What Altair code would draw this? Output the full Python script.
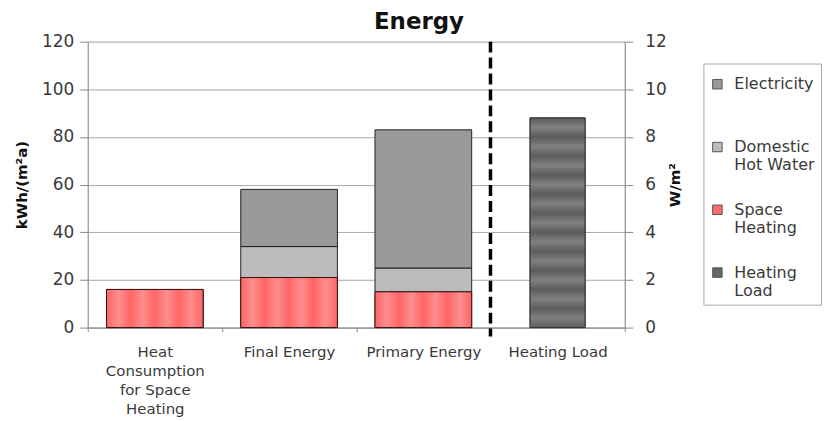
import json
import altair as alt
import pandas as pd

# ---- data ----
categories = ["Heat Consumption for Space Heating", "Final Energy", "Primary Energy", "Heating Load"]
x_label_lines = {"Heat Consumption for Space Heating": ["Heat", "Consumption", "for Space", "Heating"]}
series = ["Electricity", "Domestic Hot Water", "Space Heating", "Heating Load"]

stack_cats = ["Heat Consumption for Space Heating", "Final Energy", "Primary Energy"]
space_heating = [16, 21, 15]          # kWh/(m²a)
domestic_hot_water = [0, 13, 10]      # kWh/(m²a)
electricity = [0, 24, 58]             # kWh/(m²a)
heating_load = [8.8]                  # W/m²

left_ticks = [0, 20, 40, 60, 80, 100, 120]
right_ticks = [0, 2, 4, 6, 8, 10, 12]

# ---- tables ----
rows = []
for c, sh, dhw, el in zip(stack_cats, space_heating, domestic_hot_water, electricity):
    for s, v, r in (("Space Heating", sh, 0), ("Domestic Hot Water", dhw, 1), ("Electricity", el, 2)):
        if v > 0:
            rows.append({"cat": c, "series": s, "value": v, "rank": r})
stack_df = pd.DataFrame(rows)
sh_df = stack_df[stack_df["series"] == "Space Heating"]
hl_df = pd.DataFrame({"cat": ["Heating Load"], "series": ["Heating Load"], "value": heating_load})
rule_df = pd.DataFrame({"cat": [categories[2]]})

FONT = "DejaVu Sans"
W, H = 539, 287

label_expr = "(" + json.dumps(x_label_lines) + ")[datum.label] || datum.label"

x_axis = alt.Axis(title=None, labelExpr=label_expr, labelAngle=0, labelFont=FONT,
                  labelFontSize=15, labelColor="#3a3a3a", labelLineHeight=19,
                  labelPadding=13, ticks=True, tickBand="extent", tickSize=4,
                  tickColor="#888", domainColor="#888", labelLimit=300)
x_scale = alt.Scale(domain=categories, paddingInner=0, paddingOuter=0)
X = alt.X("cat:N", scale=x_scale, axis=x_axis, sort=categories)

color_scale = alt.Scale(domain=series, range=["#9a9a9a", "#bcbcbc", "#ff6b6b", "#666666"])
legend = alt.Legend(
    title=" ", titleFontSize=12, titlePadding=0, titleLimit=10,
    orient="none", legendX=618, legendY=22,
    labelExpr="indexof(datum.label, ' ') < 0 ? [datum.label, ' '] : split(replace(datum.label, ' ', '|'), '|')",
    labelFont=FONT, labelFontSize=16, labelColor="#3a3a3a", labelBaseline="alphabetic",
    labelOffset=9, labelLimit=300,
    symbolType="M-1,-2.1L1,-2.1L1,-0.1L-1,-0.1Z", symbolSize=90,
    symbolStrokeColor="#555", symbolStrokeWidth=1,
    rowPadding=29, padding=6, strokeColor="#aaa", fillColor="white",
)
C = alt.Color("series:N", scale=color_scale, legend=legend)

left_axis = alt.Axis(title="kWh/(m²a)", values=left_ticks, grid=True, gridColor="#a8a8a8",
                     domainColor="#888", tickColor="#888", tickSize=8, labelPadding=6,
                     labelFont=FONT, labelFontSize=17, labelColor="#3a3a3a",
                     titleFont=FONT, titleFontSize=15, titleFontWeight="bold",
                     titleColor="#111", titlePadding=12)
left_scale = alt.Scale(domain=[0, 120], nice=False)
right_axis = alt.Axis(title="W/m²", orient="right", values=right_ticks, grid=False,
                      domainColor="#888", tickColor="#888", tickSize=8, labelPadding=12,
                      labelFont=FONT, labelFontSize=17, labelColor="#3a3a3a",
                      titleFont=FONT, titleFontSize=15, titleFontWeight="bold",
                      titleColor="#111", titleAngle=-90, titlePadding=16)
right_scale = alt.Scale(domain=[0, 12], nice=False)

# stripe gradients
def stripes(c1, c2, n, horizontal):
    stops = []
    for i in range(n):
        stops.append(alt.GradientStop(offset=i / n, color=c1))
        stops.append(alt.GradientStop(offset=(i + 0.5) / n, color=c2))
    stops.append(alt.GradientStop(offset=1, color=c1))
    if horizontal:
        return alt.LinearGradient(gradient="linear", stops=stops, x1=0, x2=1, y1=0, y2=0)
    return alt.LinearGradient(gradient="linear", stops=stops, x1=0, x2=0, y1=0, y2=1)

stack = alt.Chart(stack_df).mark_bar(width={"band": 0.72}, stroke="#222", strokeWidth=1).encode(
    x=X,
    y=alt.Y("value:Q", stack="zero", scale=left_scale, axis=left_axis),
    color=C,
    order=alt.Order("rank:Q"),
)
sh_overlay = alt.Chart(sh_df).mark_bar(
    width={"band": 0.72}, stroke="#3a1010", strokeWidth=1,
    fill=stripes("#ff6565", "#ff8e8e", 4, True),
).encode(x=X, y=alt.Y("value:Q", scale=left_scale, axis=left_axis))

rule = alt.Chart(rule_df).mark_rule(color="black", strokeWidth=3.5, strokeDash=[11, 5]).encode(
    x=alt.X("cat:N", scale=x_scale, axis=x_axis, sort=categories, bandPosition=1),
    y=alt.value(0), y2=alt.value(H + 9),
)

hl_bar = alt.Chart(hl_df).mark_bar(width={"band": 0.41}, stroke="#333", strokeWidth=1).encode(
    x=X, y=alt.Y("value:Q", scale=right_scale, axis=right_axis), color=C,
)
hl_overlay = alt.Chart(hl_df).mark_bar(
    width={"band": 0.41}, stroke="#333", strokeWidth=1,
    fill=stripes("#5c5c5c", "#808080", 11, False),
).encode(x=X, y=alt.Y("value:Q", scale=right_scale, axis=right_axis))

left_group = alt.layer(stack, sh_overlay, rule)
right_group = alt.layer(hl_bar, hl_overlay)

chart = alt.layer(left_group, right_group).resolve_scale(y="independent").properties(
    width=W, height=H,
    padding={"left": 6, "top": 2, "right": 0, "bottom": 5},
    title=alt.TitleParams("Energy", font=FONT, fontSize=23, fontWeight="bold", color="#111",
                          anchor="middle", dx=63, offset=-1),
).configure_view(stroke=None).configure(background="white")

chart.save("out.html", embed_options={"renderer": "svg", "actions": False})
